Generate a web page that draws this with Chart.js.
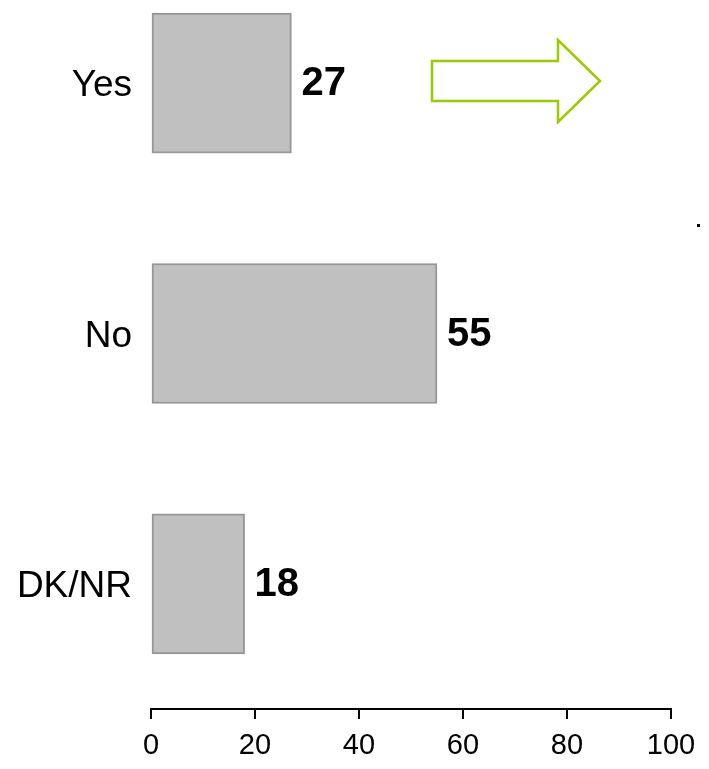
<!DOCTYPE html>
<html>
<head>
<meta charset="utf-8">
<script src="https://cdn.jsdelivr.net/npm/chart.js@4.4.1/dist/chart.umd.min.js"></script>
<style>
    html, body { margin: 0; padding: 0; background: #fff; overflow: hidden; }
    #wrap { position: relative; width: 709px; height: 769px; overflow: hidden; }
    /* the category bands start above the visible page, so the canvas is pulled up */
    #answerChart { position: absolute; left: 0; top: -42px; }
</style>
</head>
<body>
<div id="wrap">
    <canvas id="answerChart" width="709" height="811"></canvas>
</div>

<script>

    const answers = ["Yes", "No", "DK/NR"];
    const shares = [27, 55, 18];
    const xTicks = [0, 20, 40, 60, 80, 100];

    const FONT = "Arial, 'Liberation Sans', sans-serif";
    const SHIFT = 42;

    // bold value next to each bar
    const valueLabels = {
        id: "valueLabels",
        afterDatasetsDraw(chart) {
            const ctx = chart.ctx;
            const meta = chart.getDatasetMeta(0);
            ctx.save();
            ctx.fillStyle = "#000";
            ctx.font = "bold 40px " + FONT;
            ctx.textAlign = "left";
            ctx.textBaseline = "middle";
            meta.data.forEach(function (bar, i) {
                ctx.fillText(String(shares[i]), bar.x + 10, bar.y + 1);
            });
            ctx.restore();
        }
    };

    // green outlined arrow and the stray dot
    const decorations = {
        id: "decorations",
        afterDraw(chart) {
            const ctx = chart.ctx;
            ctx.save();
            ctx.translate(0, SHIFT);
            ctx.strokeStyle = "#99cc00";
            ctx.lineWidth = 2.5;
            ctx.lineJoin = "miter";
            ctx.beginPath();
            ctx.moveTo(432, 61);
            ctx.lineTo(558, 61);
            ctx.lineTo(558, 40);
            ctx.lineTo(600, 81);
            ctx.lineTo(558, 122);
            ctx.lineTo(558, 101);
            ctx.lineTo(432, 101);
            ctx.closePath();
            ctx.stroke();

            ctx.fillStyle = "#000";
            ctx.fillRect(697, 224, 3, 3);
            ctx.restore();
        }
    };

    new Chart(document.getElementById("answerChart"), {
        type: "bar",
        data: {
            labels: answers,
            datasets: [{
                data: shares,
                backgroundColor: "#c0c0c0",
                borderColor: "#969696",
                borderWidth: 2,
                borderSkipped: false,
                barThickness: 140
            }]
        },
        options: {
            indexAxis: "y",
            responsive: false,
            animation: false,
            layout: { padding: { left: 0, right: 38, top: 0, bottom: 0 } },
            plugins: {
                legend: { display: false },
                tooltip: { enabled: false }
            },
            scales: {
                x: {
                    min: 0,
                    max: 100,
                    afterBuildTicks(scale) {
                        scale.ticks = xTicks.map(v => ({ value: v }));
                    },
                    afterFit(scale) { scale.height = 60; },
                    grid: {
                        drawOnChartArea: false,
                        drawTicks: true,
                        tickLength: 10,
                        color: "#000",
                        lineWidth: 2
                    },
                    border: { display: true, color: "#000", width: 2 },
                    ticks: {
                        color: "#000",
                        padding: 10,
                        maxRotation: 0,
                        font: { family: FONT, size: 29 }
                    }
                },
                y: {
                    afterFit(scale) {
                        scale.width = 151;
                        // let the bands run up past the top edge
                        scale.paddingTop = 0;
                        scale.paddingBottom = 0;
                    },
                    grid: { display: false, drawTicks: false },
                    border: { display: false },
                    ticks: {
                        color: "#000",
                        padding: 19,
                        labelOffset: 3,
                        font: { family: FONT, size: 37 }
                    }
                }
            }
        },
        plugins: [valueLabels, decorations]
    });

</script>
</body>
</html>
